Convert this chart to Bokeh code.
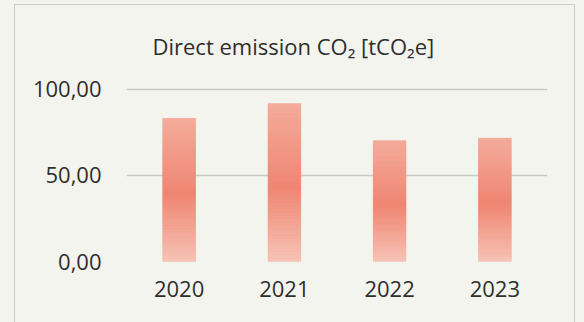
from bokeh.plotting import figure
from bokeh.models import FactorRange, Range1d, FixedTicker, InlineStyleSheet
from bokeh.embed import file_html
from bokeh.resources import INLINE

# --- data -------------------------------------------------------------
years = ["2020", "2021", "2022", "2023"]
emissions = [83.0, 91.5, 70.0, 71.5]          # tCO2e
y_ticks = [0, 50, 100]
y_tick_labels = ["0,00", "50,00", "100,00"]
title_text = "Direct emission CO\u2082 [tCO\u2082e]"

# --- style ------------------------------------------------------------
BG = "#f4f4ef"
TEXT = "#2e2e2e"
GRID = "#c9c9c2"
FONT = "Open Sans"

# vertical colour ramp of the bars (position along bar height -> rgb)
RAMP = [(0.0, (247, 196, 182)), (0.47, (239, 134, 115)), (1.0, (244, 172, 156))]
SLICES = 48


def ramp_colour(t):
    for (t0, c0), (t1, c1) in zip(RAMP[:-1], RAMP[1:]):
        if t0 <= t <= t1:
            f = (t - t0) / (t1 - t0)
            r, g, b = (round(a + (b_ - a) * f) for a, b_ in zip(c0, c1))
            return "#%02x%02x%02x" % (r, g, b)
    return "#%02x%02x%02x" % RAMP[-1][1]


# page-coloured canvas and a thin grey frame around the chart (open at the bottom)
chart_frame = InlineStyleSheet(css="""
:host { position: relative; background: %s; }
:host::after {
  content: ""; position: absolute; pointer-events: none;
  left: 14px; top: 4px; width: 559px; height: 330px;
  border: 1.5px solid #cdcdcd; border-bottom: none;
}
""" % BG)

p = figure(
    width=584, height=322,
    x_range=FactorRange(*years, range_padding=0),
    y_range=Range1d(0, 105),
    output_backend="svg", toolbar_location=None,
    min_border_left=126, min_border_right=37,
    min_border_top=80, min_border_bottom=61,
    background_fill_alpha=0, border_fill_alpha=0,
    outline_line_color=None,
    stylesheets=[chart_frame],
)

# chart title
p.title.text = title_text
p.title.align = "left"
p.title.offset = 26
p.title.standoff = 39
p.title.text_font = FONT
p.title.text_font_size = "22px"
p.title.text_font_style = "normal"
p.title.text_color = TEXT

# base bars straight from the data, then the shaded ramp on top
BAR_W = 0.31
p.vbar(x=years, top=emissions, width=BAR_W, fill_color=ramp_colour(0.47), line_color=None)

xs, bottoms, tops, cols = [], [], [], []
for yr, v in zip(years, emissions):
    for i in range(SLICES):
        t0, t1 = i / SLICES, (i + 1) / SLICES
        xs.append(yr)
        bottoms.append(v * t0)
        tops.append(v * t1)
        cols.append(ramp_colour((t0 + t1) / 2))
p.vbar(x=xs, bottom=bottoms, top=tops, width=BAR_W,
       fill_color=cols, line_color=cols, line_width=0.6)

# axes
p.xaxis.axis_line_color = None
p.xaxis.major_tick_line_color = None
p.xaxis.minor_tick_line_color = None
p.xaxis.major_label_text_font = FONT
p.xaxis.major_label_text_font_size = "22px"
p.xaxis.major_label_text_color = TEXT
p.xaxis.major_label_standoff = 13

p.yaxis.ticker = FixedTicker(ticks=y_ticks)
p.yaxis.major_label_overrides = dict(zip(y_ticks, y_tick_labels))
p.yaxis.axis_line_color = None
p.yaxis.major_tick_line_color = None
p.yaxis.minor_tick_line_color = None
p.yaxis.major_label_text_font = FONT
p.yaxis.major_label_text_font_size = "22px"
p.yaxis.major_label_text_color = TEXT
p.yaxis.major_label_standoff = 19

p.xgrid.grid_line_color = None
p.ygrid.ticker = FixedTicker(ticks=y_ticks)
p.ygrid.grid_line_color = GRID
p.ygrid.grid_line_width = 1.5

open("out.html", "w").write(file_html(p, INLINE))
